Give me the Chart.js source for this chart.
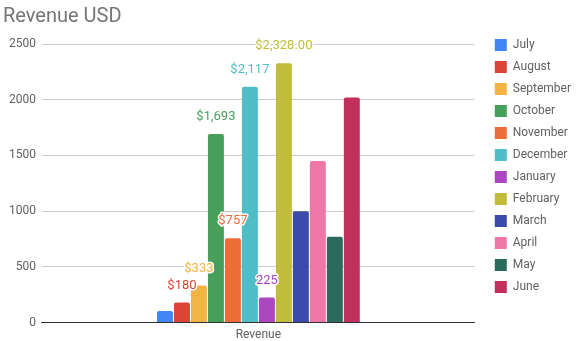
<!DOCTYPE html>
<html>
<head>
<meta charset="utf-8">
<script src="https://cdn.jsdelivr.net/npm/chart.js@4"></script>
<style>
  html, body { margin: 0; padding: 0; background: #fff; }
  #wrap { width: 578px; height: 341px; }
</style>
</head>
<body>
<div id="wrap"><canvas id="revenue-chart"></canvas></div>
<script>
// Data
const categories = ['Revenue'];
const months = ['July', 'August', 'September', 'October', 'November', 'December',
                'January', 'February', 'March', 'April', 'May', 'June'];
const revenue = [105, 180, 333, 1693, 757, 2117, 225, 2328, 1000, 1450, 770, 2020];
const valueLabels = ['', '$180', '$333', '$1,693', '$757', '$2,117', '225', '$2,328.00', '', '', '', ''];
const yTicks = [0, 500, 1000, 1500, 2000, 2500];

const colors = ['#4285f4', '#db4437', '#f4b443', '#46a05a', '#ee6c38', '#50bec6',
                '#ab47c1', '#c1bc3a', '#3a4baa', '#ef77a8', '#2b6b5e', '#c2305c'];

/**
 * Value labels above the bars, white halo like the original
 */
const barLabels = {
    id: 'barLabels',
    afterDatasetsDraw(chart) {
        const ctx = chart.ctx;
        ctx.save();
        ctx.font = '13px Roboto';
        ctx.textAlign = 'center';
        ctx.textBaseline = 'middle';
        ctx.lineJoin = 'round';
        chart.data.datasets.forEach((ds, i) => {
            const text = valueLabels[i];
            if (!text) return;
            const bar = chart.getDatasetMeta(i).data[0];
            ctx.strokeStyle = '#fff';
            ctx.lineWidth = 3;
            ctx.strokeText(text, bar.x, bar.y - 17);
            ctx.fillStyle = colors[i];
            ctx.fillText(text, bar.x, bar.y - 17);
        });
        ctx.restore();
    }
};

/**
 * Leave a gap between plot and legend, and start the legend lower
 */
const legendGap = {
    id: 'legendGap',
    beforeLayout(chart) {
        const legend = chart.legend;
        if (legend && !legend._gapWrapped) {
            const fit = legend.fit;
            legend.fit = function() { fit.call(this); this.width += 7; };
            legend._gapWrapped = true;
        }
    },
    afterLayout(chart) {
        const legend = chart.legend;
        if (!legend) return;
        legend.left += 10;
        legend.right += 10;
        legend.top += 29;
    }
};

new Chart(document.getElementById('revenue-chart'), {
    type: 'bar',
    data: {
        labels: categories,
        datasets: months.map((m, i) => ({
            label: m,
            data: [revenue[i]],
            backgroundColor: colors[i],
            borderRadius: { topLeft: 2, topRight: 2 },
            borderSkipped: 'bottom',
            categoryPercentage: 0.471,
            barPercentage: 0.94
        }))
    },
    options: {
        responsive: true,
        maintainAspectRatio: false,
        animation: false,
        layout: { padding: { left: 3, right: 0, top: 0, bottom: -6 } },
        plugins: {
            title: {
                display: true,
                text: 'Revenue USD',
                align: 'start',
                color: '#757575',
                font: { family: 'Roboto', size: 20, weight: 'normal' },
                padding: { top: 5, bottom: 15 }
            },
            legend: {
                position: 'right',
                align: 'start',
                labels: {
                    boxWidth: 12,
                    boxHeight: 12,
                    padding: 10,
                    color: '#616161',
                    font: { family: 'Roboto', size: 12 }
                }
            },
            tooltip: { enabled: false }
        },
        scales: {
            x: {
                grid: { display: false, drawTicks: false },
                border: { color: '#333', width: 1 },
                ticks: { color: '#616161', font: { family: 'Roboto', size: 12 }, padding: 5 }
            },
            y: {
                min: 0,
                max: 2500,
                afterBuildTicks: axis => { axis.ticks = yTicks.map(v => ({ value: v })); },
                grid: { color: '#cccccc', drawTicks: false },
                border: { display: false },
                ticks: {
                    color: '#616161',
                    font: { family: 'Roboto', size: 12 },
                    padding: 6,
                    callback: v => String(v)
                }
            }
        }
    },
    plugins: [barLabels, legendGap]
});
</script>
</body>
</html>
